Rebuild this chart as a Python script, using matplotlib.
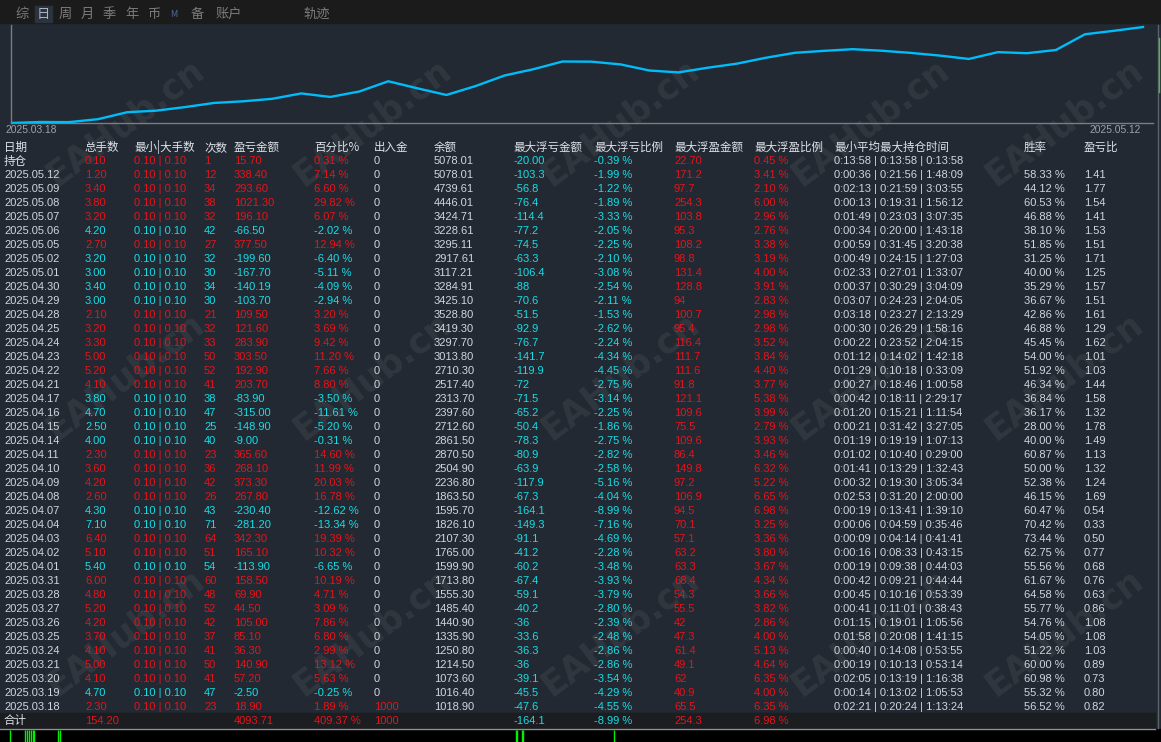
import matplotlib
matplotlib.use("Agg")
import matplotlib.pyplot as plt
from matplotlib.patches import Rectangle
import numpy as np

plt.rcParams['font.family'] = ['Liberation Sans', 'Noto Sans CJK SC', 'DejaVu Sans']

# ---- data (newest first, as listed in the table) ----
dates = ["2025.05.12", "2025.05.09", "2025.05.08", "2025.05.07", "2025.05.06", "2025.05.05",
         "2025.05.02", "2025.05.01", "2025.04.30", "2025.04.29", "2025.04.28", "2025.04.25",
         "2025.04.24", "2025.04.23", "2025.04.22", "2025.04.21", "2025.04.17", "2025.04.16",
         "2025.04.15", "2025.04.14", "2025.04.11", "2025.04.10", "2025.04.09", "2025.04.08",
         "2025.04.07", "2025.04.04", "2025.04.03", "2025.04.02", "2025.04.01", "2025.03.31",
         "2025.03.28", "2025.03.27", "2025.03.26", "2025.03.25", "2025.03.24", "2025.03.21",
         "2025.03.20", "2025.03.19", "2025.03.18"]
lots = [1.20, 3.40, 3.80, 3.20, 4.20, 2.70, 3.20, 3.00, 3.40, 3.00, 2.10, 3.20, 3.30, 5.00,
        5.20, 4.10, 3.80, 4.70, 2.50, 4.00, 2.30, 3.60, 4.20, 2.60, 4.30, 7.10, 6.40, 5.10,
        5.40, 6.00, 4.80, 5.20, 4.20, 3.70, 4.10, 5.00, 4.10, 4.70, 2.30]
lot_min = [0.10] * len(dates)
lot_max = [0.10] * len(dates)
counts = [12, 34, 38, 32, 42, 27, 32, 30, 34, 30, 21, 32, 33, 50, 52, 41, 38, 47, 25, 40,
          23, 36, 42, 26, 43, 71, 64, 51, 54, 60, 48, 52, 42, 37, 41, 50, 41, 47, 23]
pnl = [338.40, 293.60, 1021.30, 196.10, -66.50, 377.50, -199.60, -167.70, -140.19, -103.70,
       109.50, 121.60, 283.90, 303.50, 192.90, 203.70, -83.90, -315.00, -148.90, -9.00,
       365.60, 268.10, 373.30, 267.80, -230.40, -281.20, 342.30, 165.10, -113.90, 158.50,
       69.90, 44.50, 105.00, 85.10, 36.30, 140.90, 57.20, -2.50, 18.90]
pct = [7.14, 6.60, 29.82, 6.07, -2.02, 12.94, -6.40, -5.11, -4.09, -2.94, 3.20, 3.69, 9.42,
       11.20, 7.66, 8.80, -3.50, -11.61, -5.20, -0.31, 14.60, 11.99, 20.03, 16.78, -12.62,
       -13.34, 19.39, 10.32, -6.65, 10.19, 4.71, 3.09, 7.86, 6.80, 2.99, 13.12, 5.63, -0.25, 1.89]
deposit = [0] * 38 + [1000]
balance = [5078.01, 4739.61, 4446.01, 3424.71, 3228.61, 3295.11, 2917.61, 3117.21, 3284.91,
           3425.10, 3528.80, 3419.30, 3297.70, 3013.80, 2710.30, 2517.40, 2313.70, 2397.60,
           2712.60, 2861.50, 2870.50, 2504.90, 2236.80, 1863.50, 1595.70, 1826.10, 2107.30,
           1765.00, 1599.90, 1713.80, 1555.30, 1485.40, 1440.90, 1335.90, 1250.80, 1214.50,
           1073.60, 1016.40, 1018.90]
dd_amt = [-103.3, -56.8, -76.4, -114.4, -77.2, -74.5, -63.3, -106.4, -88, -70.6, -51.5, -92.9,
          -76.7, -141.7, -119.9, -72, -71.5, -65.2, -50.4, -78.3, -80.9, -63.9, -117.9, -67.3,
          -164.1, -149.3, -91.1, -41.2, -60.2, -67.4, -59.1, -40.2, -36, -33.6, -36.3, -36,
          -39.1, -45.5, -47.6]
dd_pct = [-1.99, -1.22, -1.89, -3.33, -2.05, -2.25, -2.10, -3.08, -2.54, -2.11, -1.53, -2.62,
          -2.24, -4.34, -4.45, -2.75, -3.14, -2.25, -1.86, -2.75, -2.82, -2.58, -5.16, -4.04,
          -8.99, -7.16, -4.69, -2.28, -3.48, -3.93, -3.79, -2.80, -2.39, -2.48, -2.86, -2.86,
          -3.54, -4.29, -4.55]
fp_amt = [171.2, 97.7, 254.3, 103.8, 95.3, 108.2, 98.8, 131.4, 128.8, 94, 100.7, 95.4, 116.4,
          111.7, 111.6, 91.8, 121.1, 109.6, 75.5, 109.6, 86.4, 149.8, 97.2, 106.9, 94.5, 70.1,
          57.1, 63.2, 63.3, 68.4, 54.3, 55.5, 42, 47.3, 61.4, 49.1, 62, 40.9, 65.5]
fp_pct = [3.41, 2.10, 6.00, 2.96, 2.76, 3.38, 3.19, 4.00, 3.91, 2.83, 2.98, 2.98, 3.52, 3.84,
          4.40, 3.77, 5.38, 3.99, 2.79, 3.93, 3.46, 6.32, 5.22, 6.65, 6.98, 3.25, 3.36, 3.80,
          3.67, 4.34, 3.66, 3.82, 2.86, 4.00, 5.13, 4.64, 6.35, 4.00, 6.35]
hold_min = ["0:00:36", "0:02:13", "0:00:13", "0:01:49", "0:00:34", "0:00:59", "0:00:49",
            "0:02:33", "0:00:37", "0:03:07", "0:03:18", "0:00:30", "0:00:22", "0:01:12",
            "0:01:29", "0:00:27", "0:00:42", "0:01:20", "0:00:21", "0:01:19", "0:01:02",
            "0:01:41", "0:00:32", "0:02:53", "0:00:19", "0:00:06", "0:00:09", "0:00:16",
            "0:00:19", "0:00:42", "0:00:45", "0:00:41", "0:01:15", "0:01:58", "0:00:40",
            "0:00:19", "0:02:05", "0:00:14", "0:02:21"]
hold_avg = ["0:21:56", "0:21:59", "0:19:31", "0:23:03", "0:20:00", "0:31:45", "0:24:15",
            "0:27:01", "0:30:29", "0:24:23", "0:23:27", "0:26:29", "0:23:52", "0:14:02",
            "0:10:18", "0:18:46", "0:18:11", "0:15:21", "0:31:42", "0:19:19", "0:10:40",
            "0:13:29", "0:19:30", "0:31:20", "0:13:41", "0:04:59", "0:04:14", "0:08:33",
            "0:09:38", "0:09:21", "0:10:16", "0:11:01", "0:19:01", "0:20:08", "0:14:08",
            "0:10:13", "0:13:19", "0:13:02", "0:20:24"]
hold_max = ["1:48:09", "3:03:55", "1:56:12", "3:07:35", "1:43:18", "3:20:38", "1:27:03",
            "1:33:07", "3:04:09", "2:04:05", "2:13:29", "1:58:16", "2:04:15", "1:42:18",
            "0:33:09", "1:00:58", "2:29:17", "1:11:54", "3:27:05", "1:07:13", "0:29:00",
            "1:32:43", "3:05:34", "2:00:00", "1:39:10", "0:35:46", "0:41:41", "0:43:15",
            "0:44:03", "0:44:44", "0:53:39", "0:38:43", "1:05:56", "1:41:15", "0:53:55",
            "0:53:14", "1:16:38", "1:05:53", "1:13:24"]
win_rate = [58.33, 44.12, 60.53, 46.88, 38.10, 51.85, 31.25, 40.00, 35.29, 36.67, 42.86, 46.88,
            45.45, 54.00, 51.92, 46.34, 36.84, 36.17, 28.00, 40.00, 60.87, 50.00, 52.38, 46.15,
            60.47, 70.42, 73.44, 62.75, 55.56, 61.67, 64.58, 55.77, 54.76, 54.05, 51.22, 60.00,
            60.98, 55.32, 56.52]
profit_factor = [1.41, 1.77, 1.54, 1.41, 1.53, 1.51, 1.71, 1.25, 1.57, 1.51, 1.61, 1.29, 1.62,
                 1.01, 1.03, 1.44, 1.58, 1.32, 1.78, 1.49, 1.13, 1.32, 1.24, 1.69, 0.54, 0.33,
                 0.50, 0.77, 0.68, 0.76, 0.63, 0.86, 1.08, 1.08, 1.03, 0.89, 0.73, 0.80, 0.82]

# open position row (持仓)
open_pos = dict(lots=0.10, count=1, pnl=15.70, pct=0.31, deposit=0, balance=5078.01,
                dd_amt=-20.00, dd_pct=-0.39, fp_amt=22.70, fp_pct=0.45, hold="0:13:58")
# totals row (合计)
total = dict(lots=154.20, pnl=4093.71, pct=409.37, deposit=1000,
             dd_amt=-164.1, dd_pct=-8.99, fp_amt=254.3, fp_pct=6.98)

headers = ["日期", "总手数", "最小|大手数", "次数", "盈亏金额", "百分比%", "出入金", "余额",
           "最大浮亏金额", "最大浮亏比例", "最大浮盈金额", "最大浮盈比例",
           "最小平均最大持仓时间", "胜率", "盈亏比"]
tabs = ["综", "日", "周", "月", "季", "年", "币", "M", "备", "账户", "轨迹"]
watermark = "EAHub.cn"
bottom_marks = [10, 25, 27, 29, 31, 33, 34, 58, 60, 516, 517, 522, 523, 614]

# ---- styling ----
W, H = 1161, 742
BG = '#222932'
RED = '#e5141b'
CYAN = '#16dde6'
WHITE = '#cfd6de'
HEAD = '#dce3ea'
col_x = [4, 85, 134, 204, 234, 314, 374, 434, 513, 594, 674, 754, 834, 1024, 1084]
head_y = 147.3
pitch = 13.985
FS = 8.0

fig = plt.figure(figsize=(W / 100, H / 100), dpi=100)
fig.patch.set_facecolor(BG)
bg = fig.add_axes([0, 0, 1, 1])
bg.set_xlim(0, W)
bg.set_ylim(H, 0)
bg.axis('off')

# top tab bar
bg.add_patch(Rectangle((0, 0), W, 23, color='#1b1b1b', zorder=1))
tab_x = [15, 37, 59, 81, 103, 125, 147, 170, 191, 216, 303]
for lab, x in zip(tabs, tab_x):
    if lab == "日":
        bg.add_patch(Rectangle((x - 2, 6), 17, 16, color='#2b333e', zorder=1.5))
    color = '#aab4c0' if lab == "日" else '#7c7c7c'
    size = 6.5 if lab == "M" else 9.5
    if lab == "M":
        color = '#4d6a99'
    bg.text(x, 14.5, lab, fontsize=size, color=color, va='center', ha='left', zorder=2,
            family=['Noto Sans CJK SC', 'DejaVu Sans'])

# watermarks
for cy in [122, 376, 632]:
    for cx in [125, 372, 620, 870, 1064]:
        bg.text(cx, cy, watermark, fontsize=25, fontweight='bold', color='#ffffff', alpha=0.065,
                rotation=37, ha='center', va='center', rotation_mode='anchor', zorder=1.2,
                family='DejaVu Sans')

# equity curve: cumulative daily percentage, oldest first, starting from 0
curve = np.concatenate([[0.0], np.cumsum(pct[::-1])])
ax = fig.add_axes([11 / W, 1 - 123 / H, 1142 / W, 98 / H])
ax.patch.set_alpha(0)
ax.plot(np.arange(len(curve)), curve, color='#00bdfa', lw=1.7, solid_joinstyle='round', zorder=3)
ax.set_xlim(0, (len(curve) - 1) * 1142 / 1132)
ax.set_ylim(0, curve.max() * 1.021)
for s in ['top', 'right']:
    ax.spines[s].set_visible(False)
for s in ['left', 'bottom']:
    ax.spines[s].set_color('#7d7d7d')
    ax.spines[s].set_linewidth(1)
ax.set_xticks([])
ax.set_yticks([])
bg.text(5, 130, dates[-1], fontsize=7.4, color='#9aa3ad', va='center', ha='left')
bg.text(1141, 130, dates[0], fontsize=7.4, color='#9aa3ad', va='center', ha='right')

# headers
for h, x in zip(headers, col_x):
    bg.text(x, head_y, h, fontsize=8.3, color=HEAD, va='center', ha='left',
            family=['Noto Sans CJK SC', 'DejaVu Sans'])


def row(y, cells):
    for (txt, color), x in zip(cells, col_x):
        if txt == "":
            continue
        fam = ['Noto Sans CJK SC', 'DejaVu Sans'] if txt in ("持仓", "合计") else ['Liberation Sans', 'Noto Sans CJK SC']
        fs = 8.3 if txt in ("持仓", "合计") else FS
        bg.text(x, y, txt, fontsize=fs, color=color, va='center', ha='left', family=fam, zorder=3)


def amt(v):
    return f"{v:g}"


# 持仓 row
y = head_y + pitch
c = RED if open_pos['pnl'] >= 0 else CYAN
row(y, [("持仓", HEAD), (f"{open_pos['lots']:.2f}", c), ("0.10 | 0.10", c),
        (str(open_pos['count']), c), (f"{open_pos['pnl']:.2f}", c), (f"{open_pos['pct']:.2f} %", c),
        (str(open_pos['deposit']), WHITE), (f"{open_pos['balance']:.2f}", WHITE),
        (f"{open_pos['dd_amt']:.2f}", CYAN), (f"{open_pos['dd_pct']:.2f} %", CYAN),
        (f"{open_pos['fp_amt']:.2f}", RED), (f"{open_pos['fp_pct']:.2f} %", RED),
        (" | ".join([open_pos['hold']] * 3), WHITE), ("", WHITE), ("", WHITE)])

# daily rows
for i in range(len(dates)):
    y = head_y + pitch * (i + 2)
    c = RED if pnl[i] >= 0 else CYAN
    dep_c = RED if deposit[i] > 0 else WHITE
    row(y, [(dates[i], WHITE), (f"{lots[i]:.2f}", c), (f"{lot_min[i]:.2f} | {lot_max[i]:.2f}", c),
            (str(counts[i]), c), (f"{pnl[i]:.2f}", c), (f"{pct[i]:.2f} %", c),
            (str(deposit[i]), dep_c), (f"{balance[i]:.2f}", WHITE),
            (amt(dd_amt[i]), CYAN), (f"{dd_pct[i]:.2f} %", CYAN),
            (amt(fp_amt[i]), RED), (f"{fp_pct[i]:.2f} %", RED),
            (f"{hold_min[i]} | {hold_avg[i]} | {hold_max[i]}", WHITE),
            (f"{win_rate[i]:.2f} %", WHITE), (f"{profit_factor[i]:.2f}", WHITE)])

# totals row
y = head_y + pitch * (len(dates) + 2)
bg.add_patch(Rectangle((0, y - 7.5), 1155, 15, color='#1c1d20', zorder=1.1))
row(y, [("合计", HEAD), (f"{total['lots']:.2f}", RED), ("", RED), ("", RED),
        (f"{total['pnl']:.2f}", RED), (f"{total['pct']:.2f} %", RED), (str(total['deposit']), RED),
        ("", WHITE), (amt(total['dd_amt']), CYAN), (f"{total['dd_pct']:.2f} %", CYAN),
        (amt(total['fp_amt']), RED), (f"{total['fp_pct']:.2f} %", RED)])

# bottom strip with trade markers
bg.add_patch(Rectangle((0, 729), W, H - 729, color='#000000', zorder=1.1))
bg.plot([0, 1155], [728.5, 728.5], color='#8b9199', lw=1, zorder=2)
bg.vlines(bottom_marks, 730, H, color='#00f000', lw=1, zorder=2)

# right edge scroll bar
bg.plot([1157.5, 1157.5], [25, 728], color='#5d636b', lw=1, zorder=2)
bg.plot([1158.5, 1158.5], [38, 92], color='#3cc23c', lw=1, zorder=2)

fig.savefig("out.png", dpi=100, facecolor=fig.get_facecolor())
